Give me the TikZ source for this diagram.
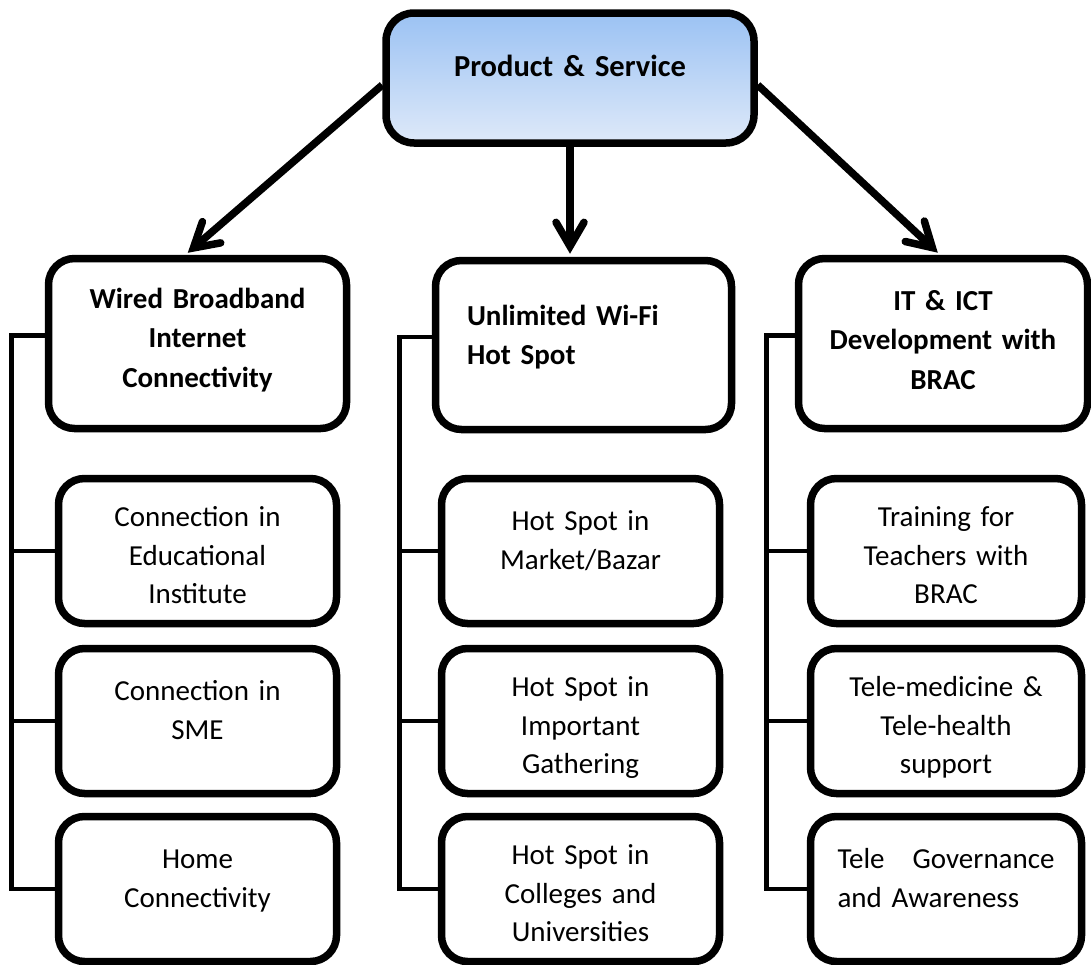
\documentclass[tikz,border=0pt]{standalone}
\usepackage{fontspec}
\setmainfont{Carlito}
\usepackage{xcolor}
\usepackage{tikz}
\usetikzlibrary{arrows.meta, positioning}
\definecolor{skytop}{RGB}{155,194,243}
\definecolor{skybot}{RGB}{222,233,249}
\newcommand{\leafsize}{\fontsize{29}{38.5}\selectfont}
\newcommand{\headsize}{\fontsize{29}{39.5}\selectfont\bfseries}

\begin{document}
\begin{tikzpicture}[x=1pt, y=-1pt,
	box/.style={draw, line width=7.5pt, rounded corners=26pt, inner sep=0pt, align=center},
	head/.style={box, font=\headsize, text width=#1, text height=49.5pt, text depth=120.5pt},
	leaf/.style={box, font=\leafsize, text width=#1, text height=52pt, text depth=93pt},
	leaf/.default=278pt,
	threeline/.style={text height=48pt, text depth=97pt},
	flow/.style={line width=7.5pt, shorten >=3pt, -{Straight Barb[length=24pt, width=28pt, line cap=round]}},
	bracket/.style={line width=4.5pt}]% Product & service tree
	\useasboundingbox (0,0) rectangle (1091,964);
	
	% root
	\node[box, top color=skytop, bottom color=skybot, rounded corners=28pt,
		font=\fontsize{30.5}{36}\selectfont\bfseries,
		text width=368pt, text height=63pt, text depth=67pt] (product) at (570,78) {Product \& Service};
	
	% second level
	\node[head=298pt] (wired) at (197.5,343.5) {Wired Broadband\\Internet\\Connectivity};
	\node[head=233pt, align=left, inner xsep=31.5pt, text height=64.5pt, text depth=104.5pt] (wifi) at (583.5,345) {Unlimited Wi-Fi\\Hot Spot};
	\node[head=289pt, text height=51.5pt, text depth=118.5pt] (ict) at (943,343.5) {IT \& ICT\\Development with\\BRAC};
	
	% leaves
	\node[leaf, threeline] (wired1) at (197.5,551) {Connection in\\Educational\\Institute};
	\node[leaf] (wired2) at (197.5,721) {Connection in\\SME};
	\node[leaf] (wired3) at (197.5,889) {Home\\Connectivity};
	
	\node[leaf] (wifi1) at (580.5,551) {Hot Spot in\\Market/Bazar};
	\node[leaf, threeline] (wifi2) at (580.5,721) {Hot Spot in\\Important\\Gathering};
	\node[leaf, threeline] (wifi3) at (580.5,889) {Hot Spot in\\Colleges and\\Universities};
	
	\node[leaf=271pt, threeline] (ict1) at (946,551) {Training for\\Teachers with\\BRAC};
	\node[leaf=271pt, threeline] (ict2) at (946,721) {Tele-medicine \&\\Tele-health\\support};
	\node[leaf=271pt, align=left, text width=217pt, inner xsep=27pt] (ict3) at (946,889) {Tele\hfill Governance\\and Awareness};
	
	% arrows
	\draw[flow] ([yshift=-7pt]product.west) -- ([xshift=-12pt]wired.north);
	\draw[flow] (product.south) -- (product.south |- wifi.north);
	\draw[flow] ([yshift=-7pt]product.east) -- ([xshift=-3pt]ict.north);
	
	% brackets
	\foreach \col/\gap in {wired/43.5, wifi/38.5, ict/40.5}{
		\draw[bracket] ([yshift=8pt]\col.west) -| ([xshift=-\gap pt]\col3.west) -- (\col3.west);
		\draw[bracket] (\col1.west) -- ++(-\gap,0);
		\draw[bracket] (\col2.west) -- ++(-\gap,0);
	}
\end{tikzpicture}
\end{document}
